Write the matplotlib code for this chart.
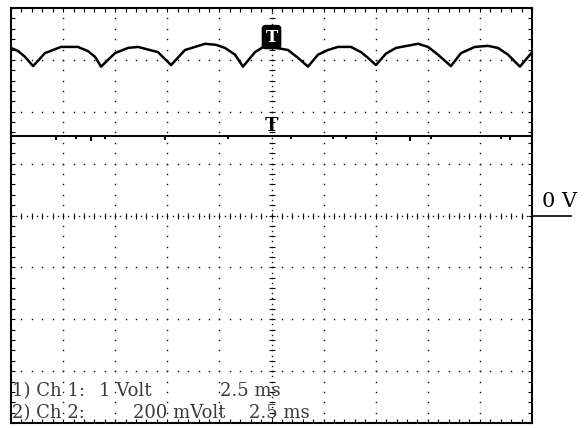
import numpy as np
import matplotlib.pyplot as plt

# ---------------- adatok (leolvasva a kepernyorol) ----------------
ms_per_div = 2.5          # idoalap
ch1_v_per_div = 1.0       # Ch 1: 1 Volt
ch2_mv_per_div = 200.0    # Ch 2: 200 mVolt

# Ch 1 - egyenirányitott feszultseg (V)
t1_ms = [0.00, 0.34, 0.67, 1.06, 1.63, 2.40, 3.21, 3.69, 4.03, 4.32,
         4.99, 5.61, 6.09, 7.05, 7.68, 8.35, 9.31, 9.84, 10.27, 10.75,
         11.13, 11.71, 12.19, 13.29, 13.77, 14.25, 14.73, 15.21, 15.69, 16.31,
         16.79, 17.13, 17.51, 17.99, 18.47, 19.53, 20.01, 20.49, 21.11, 21.59,
         22.26, 22.89, 23.37, 23.85, 24.42, 24.95]
ch1_v = [3.23, 3.17, 3.06, 2.88, 3.13, 3.25, 3.25, 3.17, 3.06, 2.87,
         3.13, 3.23, 3.25, 3.15, 2.90, 3.19, 3.31, 3.29, 3.23, 3.10,
         2.87, 3.15, 3.27, 3.19, 3.04, 2.87, 3.10, 3.19, 3.25, 3.25,
         3.15, 3.04, 2.90, 3.12, 3.23, 3.31, 3.25, 3.10, 2.88, 3.13,
         3.25, 3.27, 3.23, 3.10, 2.87, 3.12]

# Ch 2 - majdnem sima vonal (mV) + kis tuskek
t2_ms = [0.0, 25.0]
ch2_mv = [306, 306]
glitch_t_ms = [2.16, 3.12, 3.84, 4.51, 7.39, 10.41, 13.44, 15.45, 16.07,
               17.51, 19.15, 20.15, 23.51, 23.94]
glitch_mv = [14, 12, 18, 12, 16, 10, 12, 12, 12, 16, 18, 12, 12, 14]

# trigger jelek (T)
trig_t_ms = 12.5
trig1_v = 3.44
trig2_mv = 345

label1 = ["1) Ch 1:", "1 Volt", "2.5 ms"]
label2 = ["2) Ch 2:", "200 mVolt", "2.5 ms"]
label1_x = [12, 99, 220]
label2_x = [12, 133, 249]

# ---------------------------------------------------------------
W, H = 587, 428
fig = plt.figure(figsize=(W / 100, H / 100), dpi=100)
ax = fig.add_axes([11 / W, (H - 423) / H, 521 / W, 415 / H])
ax.set_xlim(0, 10)
ax.set_ylim(-4, 4)

# racs - pontozott vonalak
fine = np.arange(0, 8.01, 0.2) - 4
fine_x = np.arange(0, 10.01, 0.2)
for gx in range(1, 10):
    if gx == 5:
        continue
    ax.plot(np.full(len(fine), gx), fine, ls='none', marker='s', ms=1.0,
            color='#111111', mew=0, zorder=1)
for gy in range(-3, 4):
    if gy == 0:
        continue
    ax.plot(fine_x, np.full(len(fine_x), gy), ls='none', marker='s', ms=1.0,
            color='#111111', mew=0, zorder=1)

# kozepso tengelyek, surubb pontok + keresztjelek
half = np.arange(-4, 4.01, 0.1)
half_x = np.arange(0, 10.01, 0.1)
ax.plot(np.full(len(half), 5), half, ls='none', marker='s', ms=1.0,
        color='#111111', mew=0, zorder=1)
ax.plot(np.full(len(fine), 5), fine, ls='none', marker='_', ms=4,
        color='#111111', mew=0.8, zorder=1)
ax.plot(half_x, np.zeros(len(half_x)), ls='none', marker='s', ms=1.0,
        color='#111111', mew=0, zorder=1)
ax.plot(fine_x, np.zeros(len(fine_x)), ls='none', marker='|', ms=4,
        color='#111111', mew=0.8, zorder=1)

# jelek
x1 = np.array(t1_ms) / ms_per_div
y1 = np.array(ch1_v) / ch1_v_per_div
ax.plot(x1, y1, color='black', lw=1.8, zorder=3)

x2 = np.array(t2_ms) / ms_per_div
y2 = np.array(ch2_mv) / ch2_mv_per_div
ax.plot(x2, y2, color='black', lw=1.4, zorder=3)
gx_ = np.array(glitch_t_ms) / ms_per_div
gtop = np.full(len(gx_), ch2_mv[0] / ch2_mv_per_div)
gbot = (ch2_mv[0] - np.array(glitch_mv)) / ch2_mv_per_div
ax.vlines(gx_, gbot, gtop, color='black', lw=1.5, zorder=3)

# trigger jelolok
ax.text(trig_t_ms / ms_per_div, trig1_v / ch1_v_per_div, 'T', ha='center',
        va='center', color='white', fontsize=12, fontweight='bold',
        family='DejaVu Serif', zorder=5,
        bbox=dict(boxstyle='round,pad=0.18', fc='black', ec='black'))
ax.text(trig_t_ms / ms_per_div, trig2_mv / ch2_mv_per_div, 'T', ha='center',
        va='center', color='black', fontsize=13, fontweight='bold',
        family='DejaVu Serif', zorder=5)

# keret + tick-ek
for s in ax.spines.values():
    s.set_linewidth(1.5)
ax.set_xticks(range(11))
ax.set_yticks(range(-4, 5))
ax.set_xticks(fine_x, minor=True)
ax.set_yticks(fine, minor=True)
ax.tick_params(which='both', direction='in', top=True, right=True,
               labelbottom=False, labelleft=False, length=3, width=0.8)

# 0 V jelzes jobb oldalon
ax.plot([1.0, 1.075], [0, 0], color='black', lw=1.2, clip_on=False,
        transform=ax.get_yaxis_transform())
ax.annotate('0 V', xy=(1, 0), xycoords=ax.get_yaxis_transform(),
            xytext=(10, 14), textcoords='offset pixels', va='center',
            ha='left', fontsize=15, family='DejaVu Serif')

# csatorna feliratok
for txt, px in zip(label1, label1_x):
    fig.text(px / W, 1 - 391 / H, txt, va='center', ha='left', fontsize=13,
             family='DejaVu Serif', color='#3a3a3a')
for txt, px in zip(label2, label2_x):
    fig.text(px / W, 1 - 413 / H, txt, va='center', ha='left', fontsize=13,
             family='DejaVu Serif', color='#3a3a3a')

fig.savefig('out.png', dpi=100)
